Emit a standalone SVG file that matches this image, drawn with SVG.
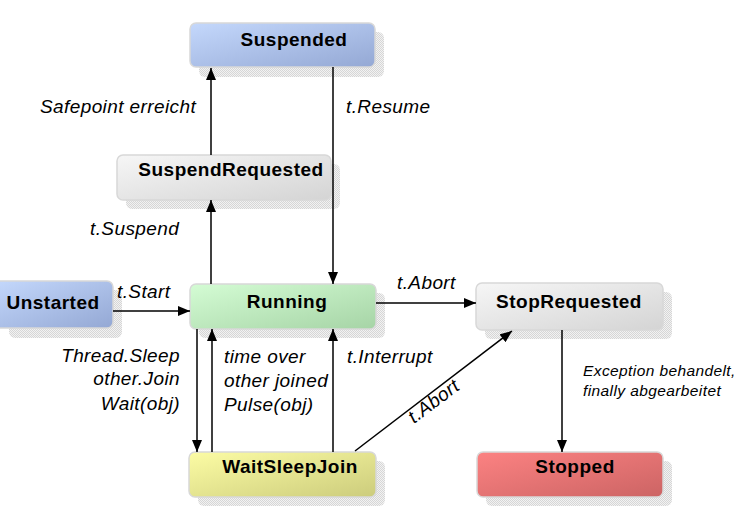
<svg xmlns="http://www.w3.org/2000/svg" width="750" height="531" viewBox="0 0 750 531">
<defs>
<pattern id="dots" width="2" height="2" patternUnits="userSpaceOnUse">
<rect width="2" height="2" fill="#f2f2f2"/>
<rect width="1" height="1" fill="#d6d6d6"/>
<rect x="1" y="1" width="1" height="1" fill="#d6d6d6"/>
</pattern>
<linearGradient id="gBlue" x1="0" y1="0" x2="1" y2="1"><stop offset="0" stop-color="#c4d8fc"/><stop offset="1" stop-color="#94a8d4"/></linearGradient>
<linearGradient id="gGrey" x1="0" y1="0" x2="1" y2="1"><stop offset="0" stop-color="#f6f6f6"/><stop offset="1" stop-color="#d4d4d4"/></linearGradient>
<linearGradient id="gGreen" x1="0" y1="0" x2="1" y2="1"><stop offset="0" stop-color="#d4fcd4"/><stop offset="1" stop-color="#a6d4a6"/></linearGradient>
<linearGradient id="gYellow" x1="0" y1="0" x2="1" y2="1"><stop offset="0" stop-color="#fcfca4"/><stop offset="1" stop-color="#cccc7c"/></linearGradient>
<linearGradient id="gRed" x1="0" y1="0" x2="1" y2="1"><stop offset="0" stop-color="#fc8282"/><stop offset="1" stop-color="#cc6464"/></linearGradient>
<marker id="arr" viewBox="0 0 12 10" refX="12" refY="5" markerWidth="12" markerHeight="10" markerUnits="userSpaceOnUse" orient="auto">
<path d="M0,0 L12,5 L0,10 Z" fill="#000"/>
</marker>
</defs>
<style>
.shadow{fill:url(#dots)}
.box{stroke:#d8d8d8;stroke-width:1.5}
.name{font-family:"Liberation Sans",Arial,sans-serif;font-weight:bold;font-size:19px;letter-spacing:0.5px;fill:#000;text-anchor:middle}
.lbl{font-family:"Liberation Sans",Arial,sans-serif;font-style:italic;font-size:19px;letter-spacing:0.4px;fill:#000}
.small{font-family:"Liberation Sans",Arial,sans-serif;font-style:italic;font-size:15.5px;letter-spacing:0.4px;fill:#000}
.end{text-anchor:end}
.conn line{stroke:#000;stroke-width:1.5;marker-end:url(#arr)}
</style>
<rect width="750" height="531" fill="#fff"/>

<g id="Suspended">
<rect class="shadow" x="199" y="32" width="185" height="45" rx="6"/>
<rect class="box" x="190" y="23" width="185" height="44" rx="6" fill="url(#gBlue)"/>
<text class="name" x="294" y="46">Suspended</text>
</g>
<g id="SuspendRequested">
<rect class="shadow" x="126" y="164" width="214" height="45" rx="6"/>
<rect class="box" x="117" y="155" width="214" height="45" rx="6" fill="url(#gGrey)"/>
<text class="name" x="231" y="176">SuspendRequested</text>
</g>
<g id="Unstarted">
<rect class="shadow" x="9" y="290" width="113" height="48" rx="6"/>
<rect class="box" x="-6" y="281" width="119" height="47" rx="6" fill="url(#gBlue)"/>
<text class="name" x="53" y="309">Unstarted</text>
</g>
<g id="Running">
<rect class="shadow" x="199" y="293" width="186" height="45" rx="6"/>
<rect class="box" x="190" y="284" width="186" height="45" rx="6" fill="url(#gGreen)"/>
<text class="name" x="287" y="308">Running</text>
</g>
<g id="StopRequested">
<rect class="shadow" x="485" y="292" width="187" height="47" rx="6"/>
<rect class="box" x="476" y="283" width="187" height="47" rx="6" fill="url(#gGrey)"/>
<text class="name" x="569" y="308">StopRequested</text>
</g>
<g id="WaitSleepJoin">
<rect class="shadow" x="198" y="461" width="187" height="45" rx="6"/>
<rect class="box" x="189" y="452" width="187" height="45" rx="6" fill="url(#gYellow)"/>
<text class="name" x="290" y="473">WaitSleepJoin</text>
</g>
<g id="Stopped">
<rect class="shadow" x="486" y="461" width="186" height="45" rx="6"/>
<rect class="box" x="477" y="452" width="186" height="45" rx="6" fill="url(#gRed)"/>
<text class="name" x="575" y="473">Stopped</text>
</g>

<g id="connectors" class="conn">
<line x1="113" y1="311" x2="190" y2="311"/>
<line x1="211" y1="284" x2="211" y2="200"/>
<line x1="211" y1="155" x2="211" y2="68"/>
<line x1="333" y1="67" x2="333" y2="284"/>
<line x1="376" y1="303" x2="476" y2="303"/>
<line x1="562" y1="330" x2="562" y2="452"/>
<line x1="197" y1="329" x2="197" y2="452"/>
<line x1="212" y1="452" x2="212" y2="329"/>
<line x1="333" y1="452" x2="333" y2="329"/>
<line x1="355" y1="451" x2="512" y2="331"/>
</g>

<g id="labels">
<text class="lbl" x="40" y="113">Safepoint erreicht</text>
<text class="lbl" x="346" y="113">t.Resume</text>
<text class="lbl" x="90" y="235">t.Suspend</text>
<text class="lbl" x="117" y="298">t.Start</text>
<text class="lbl" x="397" y="289">t.Abort</text>
<text class="lbl end" x="180" y="362">Thread.Sleep</text>
<text class="lbl end" x="180" y="385">other.Join</text>
<text class="lbl end" x="180" y="410">Wait(obj)</text>
<text class="lbl" x="224" y="363">time over</text>
<text class="lbl" x="224" y="387">other joined</text>
<text class="lbl" x="224" y="411">Pulse(obj)</text>
<text class="lbl" x="347" y="363">t.Interrupt</text>
<text class="small" x="583" y="376">Exception behandelt,</text>
<text class="small" x="583" y="396">finally abgearbeitet</text>
<text class="lbl" transform="translate(414,424) rotate(-37)">t.Abort</text>
</g>
</svg>
